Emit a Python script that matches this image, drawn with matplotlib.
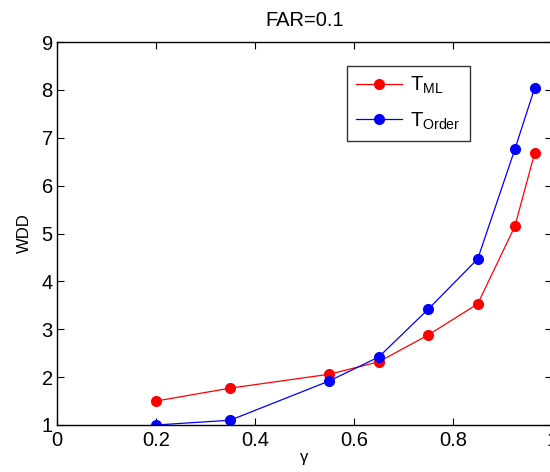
import matplotlib
matplotlib.use("Agg")
import matplotlib.pyplot as plt

plt.rcParams['font.family'] = ['Liberation Sans', 'DejaVu Sans']
plt.rcParams['mathtext.default'] = 'regular'

# data
gamma = [0.2, 0.35, 0.55, 0.65, 0.75, 0.85, 0.925, 0.965]
wdd_ml = [1.50, 1.77, 2.06, 2.32, 2.88, 3.53, 5.15, 6.68]
wdd_order = [1.0, 1.10, 1.92, 2.42, 3.42, 4.47, 6.76, 8.04]

xticks = [0, 0.2, 0.4, 0.6, 0.8, 1]
xticklabels = ['0', '0.2', '0.4', '0.6', '0.8', '1']
yticks = [1, 2, 3, 4, 5, 6, 7, 8, 9]

fig = plt.figure(figsize=(5.5, 4.72), dpi=100)
# axes run from x=57 to 552 px (right edge cropped), y=42 to 425 px
ax = fig.add_axes([57 / 550, 1 - 425 / 472, 495 / 550, 383 / 472])

ax.plot(gamma, wdd_ml, '-o', color='#ff0000', lw=0.9, ms=7, label='$T_{ML}$')
ax.plot(gamma, wdd_order, '-o', color='#0000ff', lw=0.9, ms=7, label='$T_{Order}$')

ax.set_xlim(0, 1)
ax.set_ylim(1, 9)
ax.set_xticks(xticks)
ax.set_xticklabels(xticklabels)
ax.set_yticks(yticks)
ax.tick_params(direction='in', top=True, right=True, length=5, width=0.8,
               labelsize=14.5)
ax.tick_params(axis='x', pad=4.5)
ax.tick_params(axis='y', pad=3)
for s in ax.spines.values():
    s.set_linewidth(1.0)

ax.set_title('FAR=0.1', fontsize=14.5, pad=11.5)
ax.set_xlabel('γ', fontsize=12, labelpad=0)
ax.set_ylabel('WDD', fontsize=12, labelpad=7)

leg = ax.legend(loc='upper left', bbox_to_anchor=(290 / 495, 359 / 383),
                fontsize=14.5, frameon=True, fancybox=False, edgecolor='black',
                borderpad=0.45, handlelength=2.3, labelspacing=0.7,
                handletextpad=0.4, borderaxespad=0)
leg.get_frame().set_linewidth(1.0)

fig.savefig('out.png', dpi=100)
